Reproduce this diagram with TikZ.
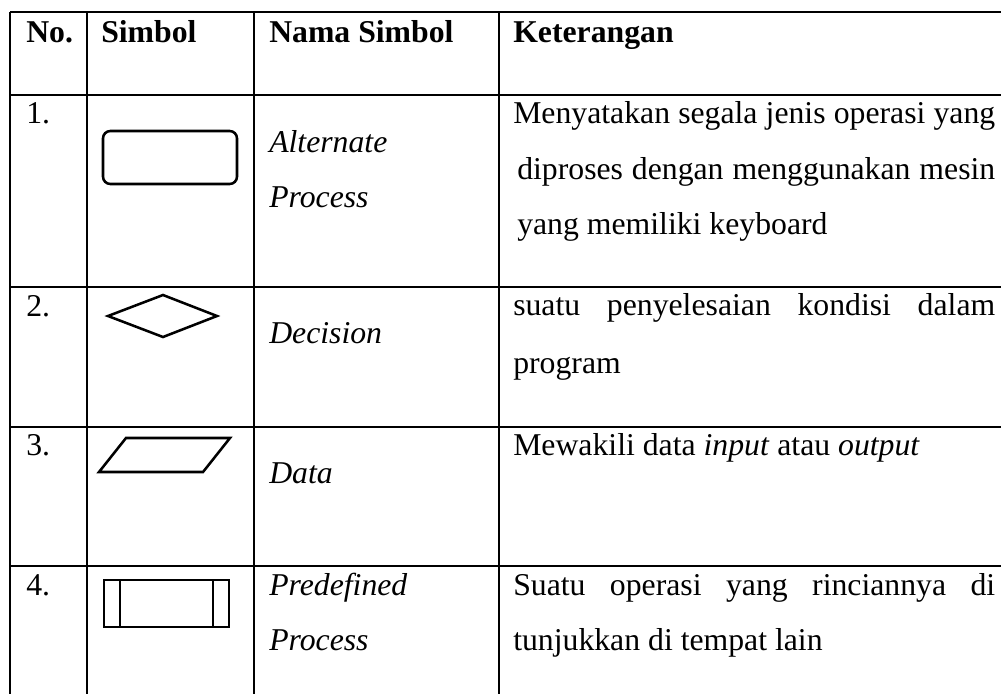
\documentclass[tikz,border=0pt]{standalone}
\usepackage{fontspec}
\setmainfont{Liberation Serif}
\usepackage{tikz}

\tikzset{
  txt/.style={anchor=base west,inner sep=0pt,font=\fontsize{23.8}{28}\selectfont},
  grid line/.style={line width=1.6pt},
  sym/.style={line width=1.9pt,line join=miter}
}

\begin{document}
\begin{tikzpicture}[x=0.75pt,y=0.75pt,yscale=-1]
\useasboundingbox (0,0) rectangle (1001,694);

%Straight Lines (rows)
\draw [grid line]   (10,12) -- (1001,12) ;
\draw [grid line]   (10,95) -- (1001,95) ;
\draw [grid line]   (10,287) -- (1001,287) ;
\draw [grid line]   (10,427) -- (1001,427) ;
\draw [grid line]   (10,566) -- (1001,566) ;
%Straight Lines (columns)
\draw [grid line]   (10,12) -- (10,694) ;
\draw [grid line]   (87,12) -- (87,694) ;
\draw [grid line]   (254,12) -- (254,694) ;
\draw [grid line]   (499,12) -- (499,694) ;

%Alternate Process
\draw [sym, rounded corners=5.5]   (103,131) rectangle (237,184) ;
%Decision
\draw [sym]   (108,316) -- (163,295) -- (217,316) -- (163,337) -- cycle ;
%Data
\draw [sym]   (126,438) -- (230,438) -- (203,472) -- (99,472) -- cycle ;
%Predefined Process
\draw [sym]   (104,580) rectangle (229,627) ;
\draw [sym]   (120,580) -- (120,627) ;
\draw [sym]   (213,580) -- (213,627) ;

% Text Node
\node [txt] (hdNo) at (26,42) {\textbf{No.}};
\node [txt] (hdSym) at (101,42) {\textbf{Simbol}};
\node [txt] (hdName) at (269,42) {\textbf{Nama Simbol}};
\node [txt] (hdDesc) at (513,42) {\textbf{Keterangan}};

% Text Node
\node [txt] (no1) at (26,123) {1.};
\node [txt] (name1a) at (269,152) {\textit{Alternate}};
\node [txt] (name1b) at (269,207) {\textit{Process}};
\node [txt] (desc1a) at (513,123) {\makebox[361.5pt][s]{Menyatakan segala jenis operasi yang}};
\node [txt] (desc1b) at (517,179) {\makebox[358.5pt][s]{diproses dengan menggunakan mesin}};
\node [txt] (desc1c) at (517,234) {yang memiliki keyboard};

% Text Node
\node [txt] (no2) at (26,316) {2.};
\node [txt] (name2) at (269,343) {\textit{Decision}};
\node [txt] (desc2a) at (513,315) {\makebox[361.5pt][s]{suatu penyelesaian kondisi dalam}};
\node [txt] (desc2b) at (513,373) {program};

% Text Node
\node [txt] (no3) at (26,455) {3.};
\node [txt] (name3) at (269,483) {\textit{Data}};
\node [txt] (desc3) at (513,455) {Mewakili data \textit{input} atau \textit{output}};

% Text Node
\node [txt] (no4) at (26,595) {4.};
\node [txt] (name4a) at (269,595) {\textit{Predefined}};
\node [txt] (name4b) at (269,650) {\textit{Process}};
\node [txt] (desc4a) at (513,595) {\makebox[361.5pt][s]{Suatu operasi yang rinciannya di}};
\node [txt] (desc4b) at (513,650) {tunjukkan di tempat lain};

\end{tikzpicture}
\end{document}
